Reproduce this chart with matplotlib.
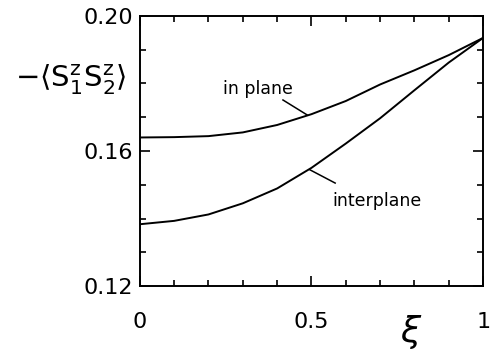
import matplotlib
matplotlib.use('Agg')
from matplotlib import pyplot as plt
from matplotlib.ticker import MultipleLocator

xi = [0.0, 0.1, 0.2, 0.3, 0.4, 0.5, 0.6, 0.7, 0.8, 0.9, 1.0]
in_plane = [0.1640, 0.1641, 0.1644, 0.1655, 0.1677, 0.1709, 0.1748, 0.1797, 0.1839, 0.1884, 0.1935]
interplane = [0.1383, 0.1393, 0.1412, 0.1445, 0.1489, 0.1550, 0.1622, 0.1697, 0.1780, 0.1862, 0.1935]

x_ticks = [0, 0.5, 1]
x_labels = ['0', '0.5', '1']
y_ticks = [0.12, 0.16, 0.20]
y_labels = ['0.12', '0.16', '0.20']

fig = plt.figure(figsize=(4.94, 3.54), dpi=100)
ax = fig.add_axes([0.283, 0.192, 0.695, 0.763])

ax.plot(xi, in_plane, color='black', lw=1.4)
ax.plot(xi, interplane, color='black', lw=1.4)

ax.set_xlim(0, 1)
ax.set_ylim(0.12, 0.20)
ax.set_xticks(x_ticks)
ax.set_xticklabels(x_labels)
ax.set_yticks(y_ticks)
ax.set_yticklabels(y_labels)
ax.xaxis.set_minor_locator(MultipleLocator(0.1))
ax.yaxis.set_minor_locator(MultipleLocator(0.01))
ax.tick_params(which='both', direction='in', top=True, right=True, width=1.2)
ax.tick_params(which='major', length=7, labelsize=16)
ax.tick_params(which='minor', length=4)
ax.tick_params(axis='x', which='major', pad=19)
ax.tick_params(axis='y', which='major', pad=5)
for s in ax.spines.values():
    s.set_linewidth(1.4)

# curve labels with leader lines
ax.text(0.242, 0.1784, 'in plane', fontsize=12.5, va='center', ha='left')
ax.plot([0.417, 0.487], [0.1751, 0.1707], color='black', lw=1.1)
ax.text(0.56, 0.1452, 'interplane', fontsize=12.5, va='center', ha='left')
ax.plot([0.496, 0.569], [0.1544, 0.1505], color='black', lw=1.1)

fig.text(0.03, 0.775, r'$-\langle \mathsf{S}_\mathsf{1}^\mathsf{z}\mathsf{S}_\mathsf{2}^\mathsf{z}\rangle$',
         fontsize=21, va='center', ha='left')
ax.text(0.79, -0.17, r'$\xi$', fontsize=26, transform=ax.transAxes, ha='center', va='center')

fig.savefig('out.png', dpi=100)
